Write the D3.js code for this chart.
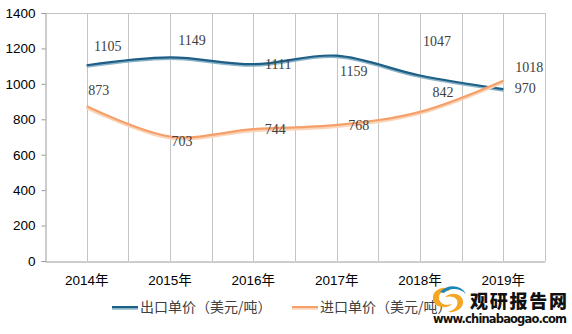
<!DOCTYPE html>
<html><head><meta charset="utf-8">
<script src="https://cdn.jsdelivr.net/npm/d3@7"></script>
<style>body{margin:0;background:#fff}svg{display:block}</style>
</head><body>
<svg id="c" width="572" height="334"></svg>
<script>
const years = ["2014年","2015年","2016年","2017年","2018年","2019年"];
const exportPrice = [1105,1149,1111,1159,1047,970];
const importPrice = [873,703,744,768,842,1018];
const exportLabels = ["1105","1149","1111","1159","1047","970"];
const importLabels = ["873","703","744","768","842","1018"];
const yTicks = [0,200,400,600,800,1000,1200,1400];
const seriesNames = ["出口单价（美元/吨）","进口单价（美元/吨）"];
// label offsets from each point (layout only)
const exportLabelOff = [[21,-14],[22,-12],[25,5],[17,20],[17,-30],[22,4]];
const importLabelOff = [[12,-11],[12,10],[22,5],[22,5],[23,-15],[26,-9]];

const svg = d3.select("#c");
const L=45,R=545,T=13,B=261;
const x = d3.scaleBand().domain(years).range([L,R]);
const y = d3.scaleLinear().domain([0,1400]).range([B,T]);
const cx = d => x(d)+x.bandwidth()/2;

// vertical grid lines at band edges and centres
const gx = [];
years.forEach(d=>{gx.push(x(d)); gx.push(cx(d));});
gx.push(R);
svg.append("g").selectAll("line").data(gx.slice(1)).join("line")
  .attr("x1",d=>Math.round(d)+0.5).attr("x2",d=>Math.round(d)+0.5)
  .attr("y1",T).attr("y2",B).attr("stroke","#c4c4c4").attr("stroke-width",1);
// top border
svg.append("line").attr("x1",L).attr("x2",R).attr("y1",T+0.5).attr("y2",T+0.5).attr("stroke","#c4c4c4");

// y axis
const yAxis = d3.axisLeft(y).tickValues(yTicks).tickFormat(d3.format("d")).tickSize(4).tickPadding(6);
const ga = svg.append("g").attr("transform",`translate(${L+0.5},0)`).call(yAxis);
ga.select(".domain").attr("stroke","#9a9a9a");
ga.selectAll(".tick line").attr("stroke","#9a9a9a");
ga.selectAll("text").attr("font-family","Liberation Sans, Arial, sans-serif").attr("font-size",13.5).attr("fill","#000");

// x axis
const xAxis = d3.axisBottom(x).tickSize(0).tickPadding(14);
const gb = svg.append("g").attr("transform",`translate(0,${B+0.5})`).call(xAxis);
gb.select(".domain").attr("stroke","#9a9a9a");
gb.selectAll("text").attr("font-family","Liberation Sans, 'Noto Sans CJK SC', sans-serif").attr("font-size",13.5).attr("fill","#000");

const line = d3.line().x((d,i)=>cx(years[i])).y(d=>y(d)).curve(d3.curveCardinal.tension(0));

// export line
svg.append("path").attr("d",line(exportPrice)).attr("transform","translate(0,1.2)")
  .attr("fill","none").attr("stroke","#8ab3c8").attr("stroke-width",2.8);
svg.append("path").attr("d",line(exportPrice))
  .attr("fill","none").attr("stroke","#1d5f86").attr("stroke-width",2.2);
// import line
svg.append("path").attr("d",line(importPrice)).attr("transform","translate(0,1.2)")
  .attr("fill","none").attr("stroke","#fbd3b6").attr("stroke-width",3.6);
svg.append("path").attr("d",line(importPrice))
  .attr("fill","none").attr("stroke","#f5a06a").attr("stroke-width",2.2);

// data labels
const lab = (vals,labels,off)=>svg.append("g").selectAll("text").data(vals).join("text")
  .attr("x",(d,i)=>cx(years[i])+off[i][0]).attr("y",(d,i)=>y(d)+off[i][1])
  .attr("text-anchor","middle").attr("font-family","Liberation Serif, serif")
  .attr("font-size",14).attr("fill","#404040").text((d,i)=>labels[i]);
lab(exportPrice,exportLabels,exportLabelOff);
lab(importPrice,importLabels,importLabelOff);

// legend
const leg = svg.append("g");
const lx=[112,292], colors=["#1d5f86","#f5a06a"], shadow=["#8ab3c8","#fbd3b6"];
seriesNames.forEach((s,i)=>{
  leg.append("line").attr("x1",lx[i]).attr("x2",lx[i]+26).attr("y1",308).attr("y2",308)
    .attr("stroke",shadow[i]).attr("stroke-width",3.4);
  leg.append("line").attr("x1",lx[i]).attr("x2",lx[i]+26).attr("y1",307).attr("y2",307)
    .attr("stroke",colors[i]).attr("stroke-width",2);
  leg.append("text").attr("x",lx[i]+28).attr("y",312).attr("font-family","'Noto Sans CJK SC', sans-serif")
    .attr("font-size",14).attr("fill","#404040").text(s);
});

// watermark
const wm = svg.append("g");
wm.append("path").attr("d","M449,288 C437,286 430,294 434,302 C437,308 447,309 452,304 C446,306 440,304 439,299 C438,293 444,290 449,291 Z").attr("fill","#f5a623");
wm.append("path").attr("d","M445,297 C452,291 462,294 463,301 C464,308 456,313 448,312 C455,310 459,305 457,300 C455,296 449,296 445,297 Z").attr("fill","#f5a623");
wm.append("path").attr("d","M440,292 C448,283 462,285 466,294 C460,288 450,287 444,293 Z").attr("fill","#1b86b8");
wm.append("text").attr("x",470).attr("y",308).attr("font-family","'Noto Sans CJK SC', sans-serif")
  .attr("font-weight",900).attr("font-size",18).attr("fill","#111").attr("textLength",97).text("观研报告网");
wm.append("text").attr("x",433).attr("y",323).attr("font-family","'DejaVu Sans', sans-serif")
  .attr("font-weight","bold").attr("font-size",11.5).attr("fill","#111").attr("textLength",134).text("www.chinabaogao.com");
</script>
</body></html>
